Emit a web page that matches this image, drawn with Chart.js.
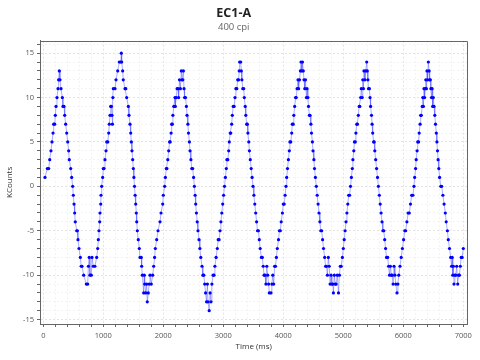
<!DOCTYPE html>
<html>
<head>
<meta charset="utf-8">
<script src="https://cdn.jsdelivr.net/npm/chart.js@4.4.1/dist/chart.umd.min.js"></script>
<style>
  body { margin: 0; background: #fff; }
</style>
</head>
<body>
<canvas id="encoderChart" width="480" height="360"></canvas>
<script>
// EC1-A encoder trace (time in ms, counts in thousands)
const timeMs = [
    // cycle 1
    28, 67, 90, 107, 128, 145, 162, 173, 190, 200,
    212, 228, 245, 255, 267, 278, 295, 317, 328, 345,
    357, 373, 390, 407, 423, 433, 457, 473, 490, 500,
    512, 523, 533, 557, 567, 578, 595, 617, 632, 645,
    673, 717, 740, 752, 765, 778, 800, 812, 833, 860,
    890, 907, 917, 928, 940, 945, 957, 962, 973,
    // cycle 2
    990, 1000, 1012, 1028, 1045, 1057, 1075, 1090, 1100, 1112,
    1123, 1135, 1145, 1152, 1160, 1167, 1195, 1212, 1240, 1267,
    1290, 1300, 1307, 1323, 1333, 1362, 1375, 1390, 1417, 1428,
    1445, 1457, 1467, 1478, 1490, 1500, 1510, 1520, 1530, 1540,
    1550, 1557, 1567, 1583, 1600, 1612, 1633, 1640, 1650, 1673,
    1683, 1690, 1707, 1723, 1733, 1750, 1765, 1778, 1800, 1823,
    1840, 1855, 1867, 1890, 1912, 1945, 1962, 1990, 2000, 2023,
    // cycle 3
    2035, 2050, 2060, 2075, 2090, 2105, 2115, 2130, 2140, 2150,
    2160, 2175, 2195, 2200, 2215, 2230, 2245, 2255, 2270, 2285,
    2300, 2312, 2325, 2335, 2345, 2355, 2370, 2385, 2395, 2410,
    2420, 2435, 2445, 2460, 2475, 2490, 2505, 2518, 2530, 2540,
    2552, 2565, 2578, 2595, 2610, 2625, 2645, 2660, 2675, 2690,
    2705, 2720, 2735, 2745, 2765, 2780, 2795, 2810, 2830, 2845,
    2860, 2880, 2900, 2915, 2930, 2945, 2960, 2975, 2990, 3005,
    3020, 3035,
    // cycle 4
    3050, 3060, 3075, 3090, 3100, 3115, 3125, 3140, 3150, 3165,
    3180, 3195, 3210, 3225, 3240, 3255, 3265, 3272, 3290, 3300,
    3310, 3325, 3340, 3350, 3365, 3375, 3390, 3400, 3410, 3425,
    3435, 3450, 3465, 3480, 3495, 3510, 3525, 3540, 3555, 3570,
    3585, 3600, 3615, 3635, 3650, 3665, 3680, 3695, 3710, 3725,
    3740, 3755, 3767, 3795, 3810, 3825, 3840, 3855, 3870, 3885,
    3900, 3920, 3935, 3950, 3965, 3985, 4000, 4015, 4030, 4045,
    4057,
    // cycle 5
    4070, 4085, 4100, 4110, 4125, 4140, 4150, 4165, 4175, 4190,
    4205, 4215, 4230, 4245, 4255, 4270, 4285, 4295, 4310, 4320,
    4333, 4345, 4358, 4370, 4385, 4395, 4410, 4420, 4435, 4445,
    4460, 4470, 4485, 4495, 4510, 4520, 4535, 4550, 4565, 4580,
    4595, 4610, 4625, 4640, 4655, 4670, 4690, 4705, 4720, 4735,
    4750, 4765, 4780, 4795, 4810, 4825, 4835, 4850, 4865, 4880,
    4900, 4920, 4935, 4950, 4965, 4985, 5000, 5015, 5030, 5045,
    5060, 5075, 5090, 5105, 5120, 5135,
    // cycle 6
    5150, 5160, 5175, 5185, 5200, 5210, 5225, 5235, 5250, 5265,
    5275, 5290, 5300, 5315, 5325, 5335, 5345, 5360, 5375, 5390,
    5400, 5410, 5420, 5435, 5445, 5455, 5470, 5480, 5490, 5505,
    5515, 5525, 5540, 5555, 5570, 5585, 5600, 5615, 5630, 5645,
    5660, 5675, 5690, 5705, 5720, 5740, 5755, 5770, 5785, 5800,
    5815, 5830, 5845, 5860, 5875, 5895, 5910, 5925, 5945, 5965,
    5985, 6005, 6025, 6040, 6060, 6080, 6100, 6120, 6140, 6160,
    6178, 6190,
    // cycle 7
    6205, 6215, 6230, 6240, 6255, 6265, 6280, 6290, 6300, 6315,
    6325, 6335, 6345, 6355, 6365, 6375, 6385, 6395, 6405, 6418,
    6430, 6440, 6450, 6460, 6470, 6480, 6490, 6500, 6512, 6525,
    6537, 6550, 6560, 6570, 6580, 6592, 6605, 6625, 6640, 6660,
    6680, 6700, 6715, 6735, 6750, 6770, 6790, 6805, 6815, 6825,
    6835, 6845, 6860, 6875, 6890, 6907, 6920, 6935, 6950, 6965,
    6980, 7000
];

const kCounts = [
    // cycle 1
    1, 2, 2, 3, 4, 5, 6, 7, 7, 8,
    9, 10, 11, 12, 13, 12, 11, 10, 9, 9,
    8, 7, 6, 5, 4, 3, 2, 1, 0, -1,
    -2, -3, -4, -5, -5, -6, -7, -8, -9, -9,
    -10, -11, -11, -9, -8, -10, -10, -8, -9, -9,
    -8, -7, -6, -5, -4, -3, -2, -1, 0,
    // cycle 2
    1, 2, 2, 3, 4, 5, 5, 6, 7, 8,
    9, 9, 8, 7, 10, 11, 11, 12, 13, 14,
    14, 15, 14, 13, 12, 11, 11, 10, 9, 8,
    7, 6, 5, 4, 3, 2, 1, 0, -1, -2,
    -3, -4, -5, -6, -7, -8, -8, -9, -10, -12,
    -10, -11, -12, -11, -13, -12, -11, -10, -11, -10,
    -9, -8, -7, -6, -5, -4, -3, -2, -1, 0,
    // cycle 3
    1, 2, 2, 3, 4, 5, 5, 6, 7, 7,
    8, 9, 10, 9, 10, 11, 11, 10, 12, 11,
    13, 12, 12, 13, 11, 10, 10, 9, 8, 7,
    6, 5, 4, 3, 2, 2, 1, 0, -1, -2,
    -3, -4, -5, -6, -7, -8, -9, -10, -10, -11,
    -12, -13, -11, -13, -14, -12, -13, -11, -10, -10,
    -9, -8, -7, -6, -6, -5, -4, -3, -2, -1,
    0, 1,
    // cycle 4
    2, 3, 3, 4, 5, 6, 6, 7, 8, 9,
    9, 10, 11, 11, 12, 12, 13, 14, 14, 13,
    12, 11, 11, 10, 9, 8, 7, 7, 6, 5,
    4, 3, 2, 1, 0, -1, -2, -3, -4, -5,
    -5, -6, -7, -8, -8, -9, -10, -10, -11, -9,
    -10, -11, -12, -12, -11, -10, -11, -9, -9, -8,
    -7, -6, -5, -5, -4, -3, -2, -2, -1, 0,
    1,
    // cycle 5
    2, 3, 4, 5, 5, 6, 7, 7, 8, 9,
    10, 10, 11, 12, 11, 12, 13, 14, 13, 14,
    13, 12, 11, 12, 10, 11, 10, 9, 8, 8,
    7, 6, 5, 4, 3, 2, 1, 0, -1, -2,
    -3, -4, -5, -5, -6, -7, -8, -9, -9, -10,
    -8, -9, -11, -10, -11, -11, -12, -10, -11, -11,
    -10, -12, -10, -9, -9, -8, -7, -6, -5, -4,
    -3, -2, -1, -1, 0, 1,
    // cycle 6
    2, 3, 4, 5, 5, 6, 7, 7, 8, 9,
    9, 10, 11, 10, 12, 11, 13, 12, 13, 14,
    13, 12, 11, 11, 10, 9, 8, 7, 6, 5,
    5, 4, 3, 2, 1, 0, -1, -2, -3, -4,
    -5, -5, -6, -7, -8, -8, -9, -10, -9, -10,
    -10, -11, -9, -10, -11, -12, -11, -10, -9, -8,
    -7, -6, -5, -5, -4, -3, -3, -2, -1, -1,
    0, 1,
    // cycle 7
    2, 3, 4, 5, 5, 6, 7, 8, 8, 9,
    10, 9, 11, 10, 11, 12, 11, 13, 12, 14,
    13, 12, 12, 11, 10, 11, 9, 10, 9, 8,
    7, 6, 5, 4, 3, 2, 1, 0, 0, -1,
    -2, -3, -4, -5, -6, -7, -8, -9, -8, -10,
    -9, -11, -10, -10, -9, -11, -10, -10, -9, -8,
    -8, -7
];

const xTickLabels = ['0', '1000', '2000', '3000', '4000', '5000', '6000', '7000'];
const yTickLabels = ['-15', '-10', '-5', '0', '5', '10', '15'];

const FONT = "'Open Sans', 'Noto Sans', sans-serif";

// top and right edges of the plot frame
const frameBox = {
    id: 'frameBox',
    beforeDatasetsDraw(chart) {
        const { ctx, chartArea } = chart;
        const l = Math.round(chartArea.left) + 0.5;
        const t = Math.round(chartArea.top) + 0.5;
        const r = Math.round(chartArea.right) - 0.5;
        const b = Math.round(chartArea.bottom);
        ctx.save();
        ctx.strokeStyle = '#666';
        ctx.lineWidth = 1;
        ctx.beginPath();
        ctx.moveTo(l, t);
        ctx.lineTo(r, t);
        ctx.lineTo(r, b);
        ctx.stroke();
        ctx.restore();
    }
};

const points = timeMs.map((t, i) => ({ x: t, y: kCounts[i] }));

new Chart(document.getElementById('encoderChart').getContext('2d'), {
    type: 'scatter',
    data: {
        datasets: [{
            label: 'EC1-A',
            data: points,
            showLine: true,
            borderColor: 'rgba(70, 70, 255, 0.45)',
            borderWidth: 1,
            pointRadius: 1.6,
            pointBorderWidth: 0,
            pointBackgroundColor: '#0000ff'
        }]
    },
    plugins: [frameBox],
    options: {
        responsive: false,
        animation: false,
        devicePixelRatio: 1,
        layout: { padding: { left: 0, right: 12.5, top: 0, bottom: 0 } },
        plugins: {
            legend: { display: false },
            tooltip: { enabled: false },
            title: {
                display: true,
                text: 'EC1-A',
                color: '#222',
                font: { family: FONT, size: 12.5, weight: 'bold' },
                padding: { top: 6, bottom: 1 }
            },
            subtitle: {
                display: true,
                text: '400 cpi',
                color: '#666',
                font: { family: FONT, size: 9.5 },
                padding: { top: 0, bottom: 7.3 }
            }
        },
        scales: {
            x: {
                type: 'linear',
                min: -55,
                max: 7070,
                afterBuildTicks: (scale) => {
                    const ticks = [];
                    for (let v = 0; v <= 7000; v += 200) ticks.push({ value: v });
                    scale.ticks = ticks;
                },
                afterFit: (scale) => { scale.height = 36; },
                ticks: {
                    autoSkip: false,
                    maxRotation: 0,
                    padding: 4,
                    color: '#555',
                    font: { family: FONT, size: 7.5 },
                    callback: (value) => xTickLabels.includes(String(value)) ? String(value) : ''
                },
                grid: {
                    color: (c) => (c.tick && c.tick.value % 1000 === 0) ? '#e3e3e3' : '#f3f3f3',
                    tickColor: '#666',
                    tickLength: 3
                },
                border: { display: true, color: '#666', dash: [2, 2] },
                title: {
                    display: true,
                    text: 'Time (ms)',
                    color: '#333',
                    font: { family: FONT, size: 8 },
                    padding: { top: 0, bottom: 8 }
                }
            },
            y: {
                type: 'linear',
                min: -15.5,
                max: 16.4,
                afterBuildTicks: (scale) => {
                    const ticks = [];
                    for (let v = -15; v <= 16; v += 1) ticks.push({ value: v });
                    scale.ticks = ticks;
                },
                afterFit: (scale) => { scale.width = 40; },
                ticks: {
                    autoSkip: false,
                    padding: 3,
                    color: '#555',
                    font: { family: FONT, size: 7.5 },
                    callback: (value) => yTickLabels.includes(String(value)) ? String(value) : ''
                },
                grid: {
                    color: (c) => (c.tick && c.tick.value % 5 === 0) ? '#e3e3e3' : '#f3f3f3',
                    tickColor: '#666',
                    tickLength: 3
                },
                border: { display: true, color: '#666', dash: [2, 2] },
                title: {
                    display: true,
                    text: 'KCounts',
                    color: '#333',
                    font: { family: FONT, size: 8 },
                    padding: { top: 5, bottom: 0 }
                }
            }
        }
    }
});
</script>
</body>
</html>
